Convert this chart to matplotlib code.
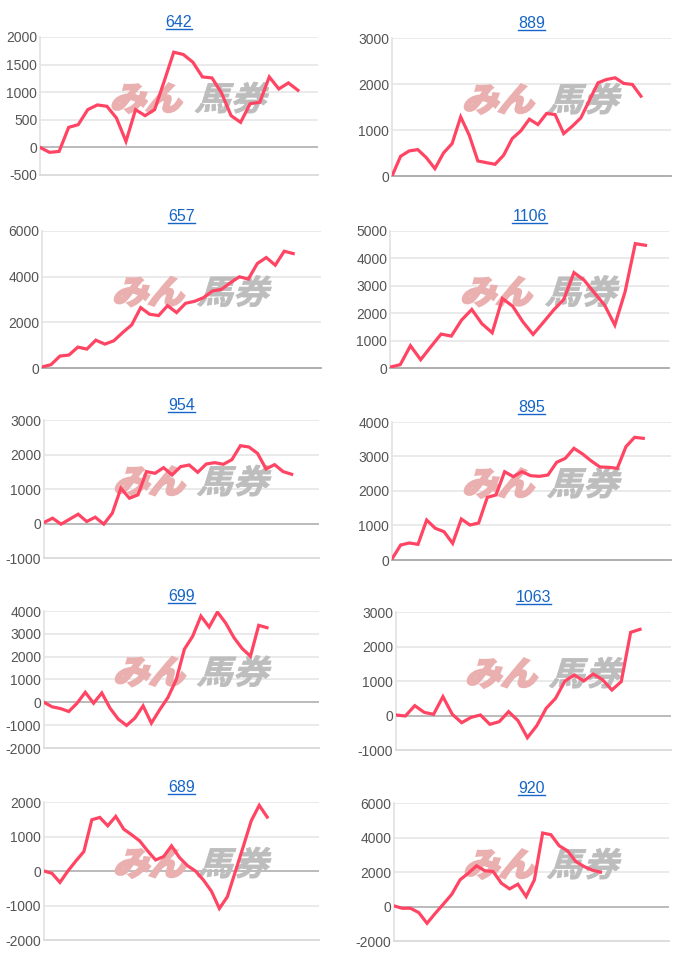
#!/usr/bin/python3

import matplotlib
matplotlib.use('Agg')
import matplotlib.pyplot as plt
from matplotlib.font_manager import FontProperties
from matplotlib.textpath import TextPath
from matplotlib.patches import PathPatch
from matplotlib.transforms import Affine2D, IdentityTransform
from matplotlib.lines import Line2D

# panel titles, in reading order (left/right, top to bottom)
titles = ['642', '889', '657', '1106', '954', '895', '699', '1063', '689', '920']

# cumulative values
p642 = [0, -90, -73, 363, 412, 684, 769, 745, 533, 109, 684, 575, 684, 1199, 1725,
	1683, 1544, 1277, 1259, 987, 575, 454, 793, 817, 1277, 1059, 1168, 1035]
p889 = [0, 428, 545, 574, 399, 160, 501, 704, 1285, 886, 327, 290, 254, 450, 813,
	980, 1235, 1118, 1358, 1336, 922, 1082, 1264, 1648, 2026, 2099, 2135, 2012, 1990, 1736]
p657 = [44, 145, 523, 567, 915, 828, 1220, 1046, 1191, 1555, 1889, 2644, 2354, 2296,
	2731, 2426, 2833, 2920, 3080, 3371, 3443, 3734, 3995, 3894, 4576, 4838, 4504, 5114, 5012]
p1106 = [30, 121, 813, 303, 777, 1238, 1165, 1748, 2136, 1614, 1286, 2536, 2257, 1687,
	1226, 1663, 2112, 2500, 3483, 3204, 2743, 2294, 1566, 2779, 4539, 4478]
p954 = [29, 154, -19, 125, 270, 58, 183, -19, 299, 1022, 733, 829, 1504, 1455, 1619,
	1407, 1648, 1696, 1484, 1725, 1764, 1716, 1851, 2255, 2217, 2034, 1581, 1706, 1504, 1427]
p895 = [30, 435, 493, 454, 1159, 918, 821, 483, 1188, 1014, 1072, 1816, 1884, 2560,
	2415, 2560, 2444, 2425, 2464, 2831, 2947, 3237, 3072, 2870, 2696, 2686, 2657, 3285, 3556, 3527]
p699 = [0, -199, -272, -402, -39, 440, -39, 411, -257, -737, -1013, -693, -156, -911,
	-330, 208, 978, 2329, 2892, 3778, 3299, 3953, 3474, 2835, 2355, 2021, 3372, 3270]
p1063 = [14, -14, 285, 92, 34, 546, 34, -208, -53, 14, -256, -179, 111, -150, -643,
	-295, 208, 498, 1000, 1174, 1000, 1203, 1039, 739, 981, 2411, 2498]
p689 = [0, -68, -330, 0, 291, 563, 1485, 1553, 1311, 1583, 1214, 1049, 874, 583, 320,
	417, 728, 388, 155, 0, -262, -583, -1087, -748, -19, 709, 1456, 1903, 1563]
p920 = [34, -102, -102, -354, -974, -393, 150, 712, 1546, 1933, 2360, 2069, 2030, 1352,
	1022, 1294, 577, 1546, 4259, 4162, 3522, 3232, 2612, 2321, 2108, 1991]

series = [p642, p889, p657, p1106, p954, p895, p699, p1063, p689, p920]

# y tick values of each panel
yticks = [
	[-500, 0, 500, 1000, 1500, 2000],
	[0, 1000, 2000, 3000],
	[0, 2000, 4000, 6000],
	[0, 1000, 2000, 3000, 4000, 5000],
	[-1000, 0, 1000, 2000, 3000],
	[0, 1000, 2000, 3000, 4000],
	[-2000, -1000, 0, 1000, 2000, 3000, 4000],
	[-1000, 0, 1000, 2000, 3000],
	[-2000, -1000, 0, 1000, 2000],
	[-2000, 0, 2000, 4000, 6000],
]

# number of x slots shown on each panel
xslots = [29.1, 32.5, 31.1, 27.3, 32.2, 32.2, 33.3, 29.3, 34.5, 33.3]

# plot boxes in pixels: left, right, top, bottom
boxes = [
	(40, 318, 37, 175), (392, 671, 38, 176),
	(42, 321, 231, 368), (390, 669, 231, 368),
	(44, 319, 420, 558), (392, 671, 422, 560),
	(44, 319, 611, 748), (396, 671, 612, 750),
	(44, 319, 802, 940), (394, 669, 803, 941),
]

W, H = 700, 955
LINE = '#ff4563'
LINK = '#1565c8'


def watermark(ax):
	''' Slanted two-tone logo in the middle of a panel'''

	fp = FontProperties(family=['Noto Sans CJK JP', 'DejaVu Sans'], weight='bold')
	size = 33
	parts = [('みん', 0.25, '#eab0b0', 2.0), ('馬券', 0.555, '#bdbdbd', 0.6)]
	for txt, fx, color, stroke in parts:
		px, py = ax.transAxes.transform((fx, 0.47))
		tp = TextPath((0, 0), txt, size=1, prop=fp)
		tr = Affine2D().skew_deg(16, 0).scale(size * 1.08, size).translate(px, py)
		patch = PathPatch(tr.transform_path(tp), facecolor=color, edgecolor=color,
			linewidth=stroke, joinstyle='miter', transform=IdentityTransform(), zorder=2)
		ax.add_artist(patch)


def panel(fig, i):
	''' Draw one small line chart'''

	l, r, t, b = boxes[i]
	ax = fig.add_axes([l / W, 1 - b / H, (r - l) / W, (b - t) / H])
	ticks = yticks[i]
	vals = series[i]

	ax.set_xlim(0, xslots[i])
	ax.set_ylim(ticks[0], ticks[-1])
	ax.set_yticks(ticks)
	ax.set_yticklabels([str(v) for v in ticks])
	ax.set_xticks([])
	ax.tick_params(axis='y', length=0, pad=2, labelsize=10, labelcolor='#555555')

	for s in ['top', 'right']:
		ax.spines[s].set_visible(False)
	ax.spines['left'].set_color('#e2e2e2')
	ax.spines['left'].set_linewidth(1.2)
	ax.spines['bottom'].set_color('#a8a8a8' if ticks[0] == 0 else '#dadada')
	ax.spines['bottom'].set_linewidth(1.3)

	for v in ticks[1:]:
		if v == 0:
			ax.axhline(0, color='#a8a8a8', linewidth=1.1, zorder=1)
		else:
			ax.axhline(v, color='#e4e4e4', linewidth=1.1, zorder=1)

	watermark(ax)

	ax.plot(range(len(vals)), vals, color=LINE, linewidth=2.3, zorder=3,
		solid_joinstyle='miter')

	t = ax.text(0.5, 1.075, titles[i], transform=ax.transAxes, ha='center',
		va='baseline', fontsize=11.5, color=LINK)
	return t


def main():
	''' Build the grid of ten charts'''

	plt.rcParams['font.family'] = ['Liberation Sans', 'DejaVu Sans']
	fig = plt.figure(figsize=(W / 100, H / 100), dpi=100)

	labels = [panel(fig, i) for i in range(len(series))]

	# underline the titles like links
	fig.canvas.draw()
	for t in labels:
		bb = t.get_window_extent()
		y = bb.y0 + 1
		fig.add_artist(Line2D([bb.x0, bb.x1], [y, y], color=LINK, linewidth=1,
			transform=IdentityTransform()))

	plt.savefig('out.png', dpi=100)
	plt.close()

	return


if __name__ == '__main__':
	main()
